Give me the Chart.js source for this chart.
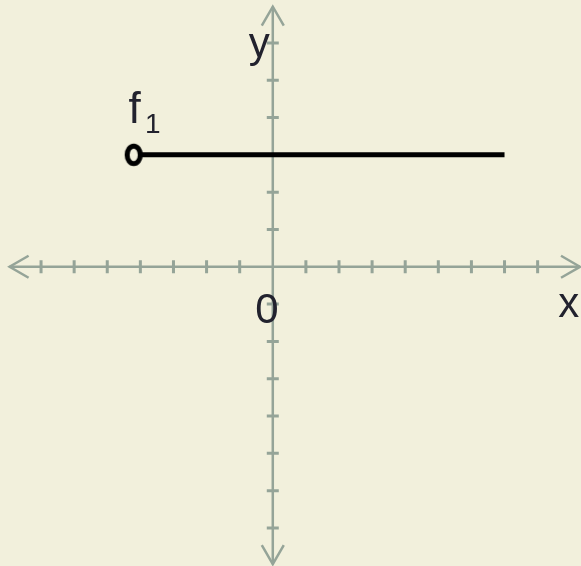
<!DOCTYPE html>
<html>
<head>
<meta charset="utf-8">
<script src="https://cdn.jsdelivr.net/npm/chart.js@4/dist/chart.umd.min.js"></script>
<style>
    html, body { margin: 0; padding: 0; background: #f2f0dc; overflow: hidden; }
    #wrap { width: 581px; height: 566px; position: relative; }
</style>
</head>
<body>
<div id="wrap"><canvas id="plot"></canvas></div>
<script>
// tick marks on the axes (the origin has none)
const xTicks = [-7, -6, -5, -4, -3, -2, -1, 1, 2, 3, 4, 5, 6, 7, 8];
const yTicks = [-7, -6, -5, -4, -3, -2, -1, 1, 2, 3, 4, 5, 6];

// f1: horizontal segment y = 3, open end on the left
const f1X = [-4.2, 7];
const f1Y = [3, 3];

const bg = '#f2f0dc';
const axisColor = '#95a498';
const textColor = '#22222e';
const fontFamily = '"Liberation Sans", Arial, sans-serif';

// open end marker, slightly taller than wide
function openEnd() {
    const c = document.createElement('canvas');
    c.width = 24;
    c.height = 28;
    const g = c.getContext('2d');
    g.beginPath();
    g.ellipse(12, 14, 6.6, 8.8, 0, 0, Math.PI * 2);
    g.fillStyle = bg;
    g.fill();
    g.lineWidth = 5;
    g.strokeStyle = '#000';
    g.stroke();
    return c;
}

const axesPlugin = {
    id: 'axes',
    beforeDatasetsDraw(chart) {
        const ctx = chart.ctx;
        const sx = chart.scales.x;
        const sy = chart.scales.y;
        const x0 = sx.getPixelForValue(0);
        const y0 = sy.getPixelForValue(0);
        const left = sx.getPixelForValue(-7.95);
        const right = sx.getPixelForValue(9.28);
        const top = sy.getPixelForValue(6.97);
        const bottom = sy.getPixelForValue(-7.97);

        ctx.save();
        ctx.strokeStyle = axisColor;
        ctx.lineWidth = 2.5;
        ctx.lineCap = 'butt';

        ctx.beginPath();
        ctx.moveTo(left, y0);
        ctx.lineTo(right, y0);
        ctx.moveTo(x0, top);
        ctx.lineTo(x0, bottom);
        ctx.stroke();

        // open arrow heads
        ctx.beginPath();
        ctx.moveTo(left + 19, y0 - 11);
        ctx.lineTo(left, y0);
        ctx.lineTo(left + 19, y0 + 11);
        ctx.moveTo(right - 19, y0 - 11);
        ctx.lineTo(right, y0);
        ctx.lineTo(right - 19, y0 + 11);
        ctx.moveTo(x0 - 11, top + 19);
        ctx.lineTo(x0, top);
        ctx.lineTo(x0 + 11, top + 19);
        ctx.moveTo(x0 - 11, bottom - 19);
        ctx.lineTo(x0, bottom);
        ctx.lineTo(x0 + 11, bottom - 19);
        ctx.stroke();

        ctx.lineWidth = 3;
        ctx.beginPath();
        xTicks.forEach(function (v) {
            const px = sx.getPixelForValue(v);
            ctx.moveTo(px, y0 - 6.5);
            ctx.lineTo(px, y0 + 6.5);
        });
        yTicks.forEach(function (v) {
            const py = sy.getPixelForValue(v);
            ctx.moveTo(x0 - 6, py);
            ctx.lineTo(x0 + 6, py);
        });
        ctx.stroke();
        ctx.restore();
    },
    afterDatasetsDraw(chart) {
        const ctx = chart.ctx;
        const sx = chart.scales.x;
        const sy = chart.scales.y;

        ctx.save();
        ctx.fillStyle = textColor;
        ctx.textBaseline = 'alphabetic';
        ctx.font = '42px ' + fontFamily;
        ctx.textAlign = 'center';
        ctx.fillText('y', sx.getPixelForValue(-0.41), sy.getPixelForValue(5.62));
        ctx.fillText('0', sx.getPixelForValue(-0.18), sy.getPixelForValue(-1.5));
        ctx.fillText('x', sx.getPixelForValue(8.94), sy.getPixelForValue(-1.34));

        ctx.textAlign = 'left';
        ctx.font = '44px ' + fontFamily;
        ctx.fillText('f', sx.getPixelForValue(-4.36), sy.getPixelForValue(3.86));
        ctx.font = '28px ' + fontFamily;
        ctx.fillText('1', sx.getPixelForValue(-3.86), sy.getPixelForValue(3.58));
        ctx.restore();
    }
};

new Chart(document.getElementById('plot'), {
    type: 'scatter',
    data: {
        datasets: [
            {
                label: 'f1',
                data: f1X.map(function (x, i) { return { x: x, y: f1Y[i] }; }),
                showLine: true,
                borderColor: '#000',
                borderWidth: 5,
                borderCapStyle: 'butt',
                pointStyle: openEnd(),
                pointRadius: [9, 0],
                pointHoverRadius: [9, 0],
            },
        ],
    },
    options: {
        responsive: true,
        maintainAspectRatio: false,
        animation: false,
        events: [],
        layout: { padding: 0, autoPadding: false },
        plugins: {
            legend: { display: false },
            tooltip: { enabled: false },
        },
        scales: {
            x: { type: 'linear', min: -8.24, max: 9.31, display: false },
            y: { type: 'linear', min: -8.02, max: 7.15, display: false },
        },
    },
    plugins: [axesPlugin],
});
</script>
</body>
</html>
